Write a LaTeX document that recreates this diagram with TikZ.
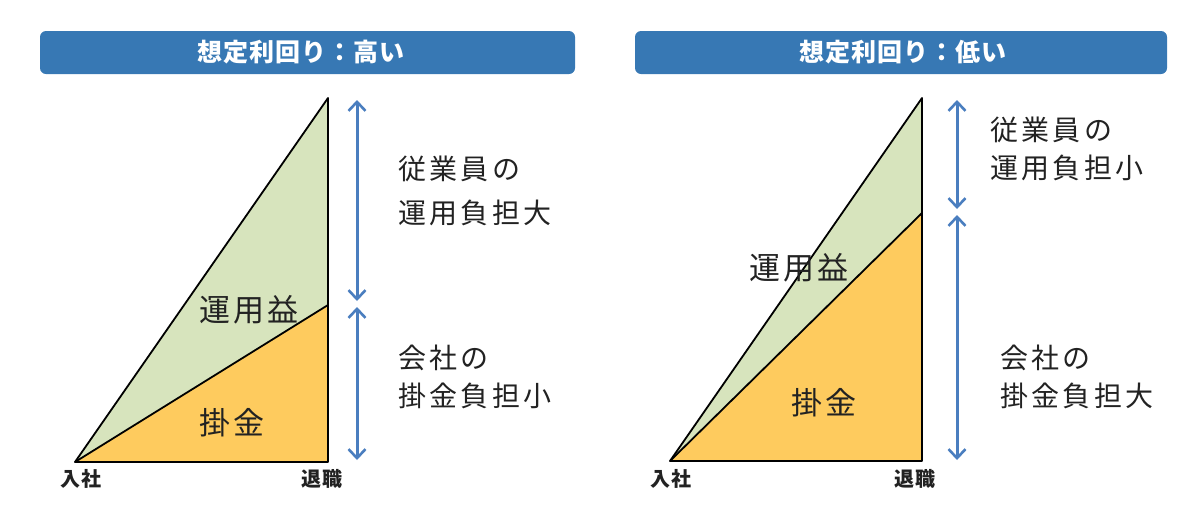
\documentclass[tikz,border=0pt]{standalone}
\usepackage{fontspec}
\newfontfamily\jp{Noto Sans CJK JP}
\newfontfamily\jpwide{Noto Sans CJK JP}[LetterSpace=12]
\newfontfamily\jphead{Noto Sans CJK JP}[LetterSpace=4]
\newfontfamily\jparea{Noto Sans CJK JP}[LetterSpace=10]
\newfontfamily\jpaxis{Noto Sans CJK JP}[LetterSpace=5]
\usetikzlibrary{arrows.meta}
\definecolor{hdrblue}{HTML}{3778B4}
\definecolor{arrblue}{HTML}{4A7EBF}
\definecolor{grn}{HTML}{D7E4BD}
\definecolor{org}{HTML}{FECB5E}
\definecolor{txt}{HTML}{222222}
\tikzset{
  header/.style={fill=hdrblue, rounded corners=6pt, draw=none},
  headtext/.style={text=white, font=\jphead\bfseries\fontsize{25}{28}\selectfont, inner sep=0pt},
  area/.style={draw=black, line width=1.8pt, line join=round},
  arealabel/.style={text=txt, font=\jparea\fontsize{31}{34}\selectfont, inner sep=0pt},
  axislabel/.style={text=txt, font=\jpaxis\bfseries\fontsize{20}{22}\selectfont, inner sep=0pt},
  sidelabel/.style={text=txt, anchor=west, align=left, inner sep=0pt},
  dim/.style={draw=arrblue, line width=3pt, {Straight Barb[length=9pt,width=17pt,line width=2.6pt]}-{Straight Barb[length=9pt,width=17pt,line width=2.6pt]}}
}
\begin{document}
\begin{tikzpicture}[x=1pt,y=-1pt]
\useasboundingbox (0,0) rectangle (1200,520);
% ---------- left panel ----------
\draw[header] (40,31) rectangle (575,74);
\node[headtext] (h1) at (301,52) {想定利回り：高い};
\coordinate (a1) at (75,462);
\coordinate (t1) at (328,98);
\coordinate (m1) at (328,305);
\coordinate (b1) at (328,462);
\fill[grn] (a1) -- (t1) -- (b1) -- cycle;
\fill[org] (a1) -- (m1) -- (b1) -- cycle;
\draw[area] (a1) -- (t1) -- (b1) -- cycle;
\draw[area] (a1) -- (m1);
\node[arealabel] (u1) at (249,310) {運用益};
\node[arealabel] (k1) at (232,423) {掛金};
\node[axislabel] (s1) at (81,479) {入社};
\node[axislabel] (r1) at (322,479) {退職};
\coordinate (p1top) at (357,100);
\coordinate (p1mida) at (357,301);
\coordinate (p1midb) at (357,307);
\coordinate (p1bot) at (357,460);
\draw[dim] (p1top) -- (p1mida);
\draw[dim] (p1midb) -- (p1bot);
\node[sidelabel, font=\jpwide\fontsize{28}{44}\selectfont] (e1) at (398,191) {従業員の\\運用負担大};
\node[sidelabel, font=\jpwide\fontsize{28}{38}\selectfont] (c1) at (398,377) {会社の\\掛金負担小};
% ---------- right panel ----------
\draw[header] (635,31) rectangle (1167,74);
\node[headtext] (h2) at (903,52) {想定利回り：低い};
\coordinate (a2) at (670,461);
\coordinate (t2) at (922,98);
\coordinate (m2) at (922,213);
\coordinate (b2) at (922,461);
\fill[grn] (a2) -- (t2) -- (b2) -- cycle;
\fill[org] (a2) -- (m2) -- (b2) -- cycle;
\draw[area] (a2) -- (t2) -- (b2) -- cycle;
\draw[area] (a2) -- (m2);
\node[arealabel] (u2) at (799,268) {運用益};
\node[arealabel] (k2) at (824,403) {掛金};
\node[axislabel] (s2) at (671,479) {入社};
\node[axislabel] (r2) at (915,479) {退職};
\coordinate (p2top) at (957,100);
\coordinate (p2mida) at (957,209);
\coordinate (p2midb) at (957,215);
\coordinate (p2bot) at (957,460);
\draw[dim] (p2top) -- (p2mida);
\draw[dim] (p2midb) -- (p2bot);
\node[sidelabel, font=\jpwide\fontsize{28}{38}\selectfont] (e2) at (990,149) {従業員の\\運用負担小};
\node[sidelabel, font=\jpwide\fontsize{28}{38}\selectfont] (c2) at (1000,377) {会社の\\掛金負担大};
\end{tikzpicture}
\end{document}
